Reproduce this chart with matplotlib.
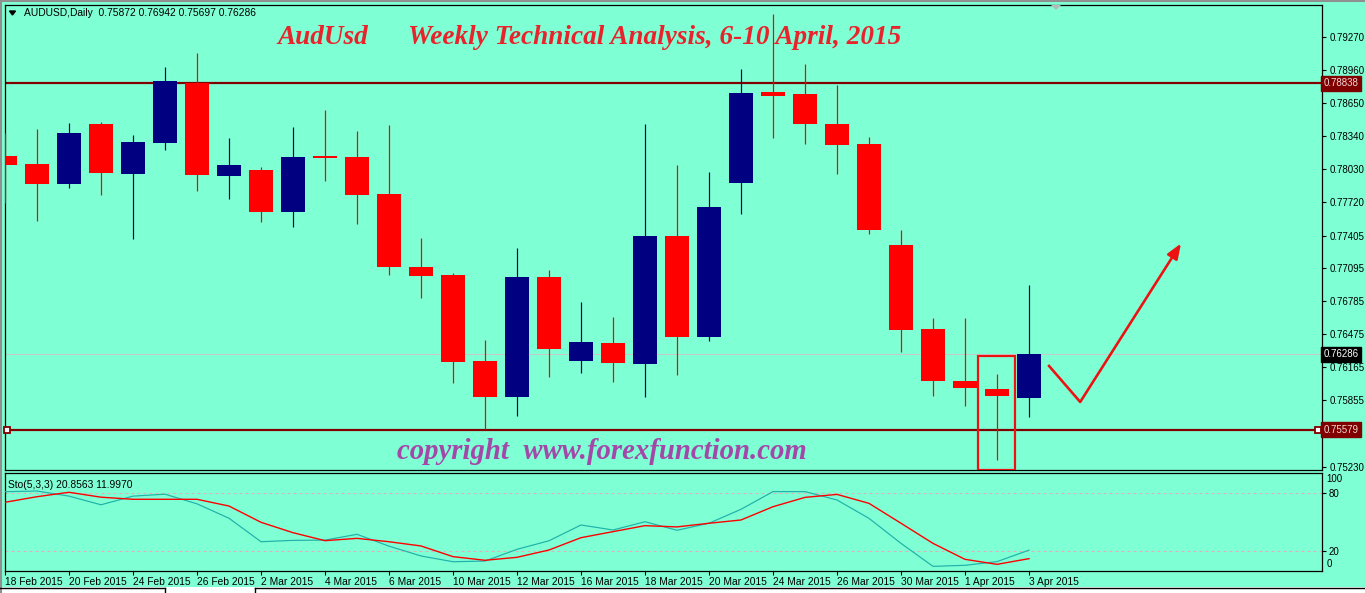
import matplotlib
matplotlib.use('Agg')
import matplotlib.pyplot as plt
from matplotlib.patches import Rectangle
import matplotlib.transforms as mtransforms
import numpy as np

# ---------------- data ----------------
tick_dates = ['18 Feb 2015', '20 Feb 2015', '24 Feb 2015', '26 Feb 2015', '2 Mar 2015',
              '4 Mar 2015', '6 Mar 2015', '10 Mar 2015', '12 Mar 2015', '16 Mar 2015',
              '18 Mar 2015', '20 Mar 2015', '24 Mar 2015', '26 Mar 2015', '30 Mar 2015',
              '1 Apr 2015', '3 Apr 2015']

opens = [0.78153, 0.78078, 0.77893, 0.78454, 0.77987, 0.78278, 0.78840, 0.77968, 0.78022,
         0.77629, 0.78144, 0.78144, 0.77796, 0.77109, 0.77034, 0.76225, 0.75889, 0.77015,
         0.76227, 0.76394, 0.76199, 0.77401, 0.76453, 0.77902, 0.78755, 0.78737, 0.78454,
         0.78266, 0.77316, 0.76526, 0.76037, 0.75961, 0.75872]
highs = [0.78373, 0.78407, 0.78464, 0.78473, 0.78351, 0.78991, 0.79122, 0.78323, 0.78050,
         0.78426, 0.78586, 0.78388, 0.78445, 0.77382, 0.77053, 0.76422, 0.77288, 0.77081,
         0.76780, 0.76639, 0.78454, 0.78069, 0.78003, 0.78972, 0.79489, 0.79019, 0.78821,
         0.78332, 0.77457, 0.76629, 0.76629, 0.76102, 0.76942]
lows = [0.77714, 0.77545, 0.77855, 0.77789, 0.77375, 0.78213, 0.77827, 0.77752, 0.77535,
        0.77488, 0.77921, 0.77516, 0.77037, 0.76820, 0.76021, 0.75582, 0.75710, 0.76077,
        0.76115, 0.76030, 0.75889, 0.76096, 0.76416, 0.77610, 0.78325, 0.78269, 0.77987,
        0.77422, 0.76309, 0.75895, 0.75801, 0.75293, 0.75697]
closes = [0.78071, 0.77893, 0.78370, 0.77996, 0.78285, 0.78859, 0.77977, 0.78069, 0.77629,
          0.78144, 0.78139, 0.77789, 0.77112, 0.77027, 0.76218, 0.75889, 0.77015, 0.76340,
          0.76403, 0.76209, 0.77401, 0.76453, 0.77674, 0.78746, 0.78721, 0.78457, 0.78260,
          0.77460, 0.76516, 0.76037, 0.75971, 0.75895, 0.76286]

stoch_k = [81.6, 82.3, 77.0, 68.0, 77.0, 79.0, 69.0, 54.0, 29.6, 31.0, 31.3, 37.3, 25.0,
           14.8, 8.8, 9.5, 21.7, 30.6, 47.0, 41.8, 50.4, 41.5, 48.8, 63.3, 81.7, 81.7,
           73.0, 53.9, 27.9, 4.0, 5.1, 8.9, 20.8563]
stoch_d = [70.6, 76.4, 81.0, 75.9, 73.7, 73.7, 73.7, 66.7, 49.8, 39.0, 30.7, 33.1, 29.6,
           25.2, 14.1, 10.3, 13.4, 21.0, 33.8, 40.1, 46.3, 45.0, 48.8, 52.2, 66.0, 75.7,
           78.8, 69.5, 48.8, 27.9, 11.3, 6.1, 11.997]

price_ticks = [0.79270, 0.78960, 0.78650, 0.78340, 0.78030, 0.77720, 0.77405, 0.77095,
               0.76785, 0.76475, 0.76165, 0.75855, 0.75540, 0.75230]
resistance = 0.78838
support = 0.75579
last_price = 0.76286
stoch_levels = [80, 20]
stoch_ticks = [80, 20]

# ---------------- layout ----------------
W, H = 1365, 593
BG = '#7FFFD4'
BULL = '#000080'
BEAR = '#FF0000'
MAROON = '#800000'
LBL = 'Liberation Sans'
FS = 7.0
PX = 0.72  # 1 pixel in points


def rect(x0, y0, x1, y1):
    return [x0 / W, 1 - y1 / H, (x1 - x0) / W, (y1 - y0) / H]


fig = plt.figure(figsize=(W / 100, H / 100), dpi=100, facecolor=BG)

ax = fig.add_axes(rect(4.5, 4.5, 1321.5, 470), facecolor=BG)
sx = fig.add_axes(rect(4.5, 472.5, 1321.5, 571), facecolor=BG)

n = len(opens)
idx = np.arange(n)
xmin = (4.5 - 5) / 32
xmax = (1321.5 - 5) / 32

# price -> pixel scale: 0.79270 at y=37.3, 0.75230 at y=466.7
ppx = (0.79270 - 0.75230) / (466.7 - 37.3)
ytop = 0.79270 + (37.3 - 4.5) * ppx
ybot = 0.79270 - (470 - 37.3) * ppx

# candles
for i in idx:
    o, h, l, c = opens[i], highs[i], lows[i], closes[i]
    col = BULL if c > o else BEAR
    ax.vlines(i, l, h, color=col, lw=1.0 * PX * 1.2, zorder=3)
    body = max(abs(c - o), 1.6 * ppx)
    ax.bar(i, body, bottom=min(o, c), width=0.78, color=col, linewidth=0, zorder=4)

# level lines
ax.axhline(resistance, color=MAROON, lw=2 * PX * 1.1, zorder=2)
ax.axhline(support, color=MAROON, lw=2 * PX * 1.1, zorder=2)
ax.plot([xmin + 0.07, xmax - 0.1], [support, support], ls='none', marker='s', ms=4.5,
        mfc='white', mec=MAROON, mew=1.3, zorder=5, clip_on=False)
ax.axhline(last_price, color='#C8C8C8', lw=PX, zorder=1)

ax.set_xlim(xmin, xmax)
ax.set_ylim(ybot, ytop)

# right axis ticks (the 0.75540 label sits under the support price box)
ax.yaxis.tick_right()
ax.set_yticks(price_ticks)
ax.set_yticklabels(['' if abs(p - 0.75540) < 1e-6 else f'{p:.5f}' for p in price_ticks],
                   fontsize=FS, family=LBL)
ax.tick_params(axis='y', direction='out', length=3, width=0.8, pad=3, colors='black')
ax.set_xticks([])
for sp in ax.spines.values():
    sp.set_color('black')
    sp.set_linewidth(0.9)

# price boxes on axis
btr = mtransforms.blended_transform_factory(ax.transAxes, ax.transData)
for val, fc in [(resistance, MAROON), (support, MAROON), (last_price, 'black')]:
    ax.text(1.0015, val, f'{val:.5f}', transform=btr, fontsize=FS, family=LBL,
            color='white' if fc == 'black' else '#F0D8D8', va='center', ha='left',
            bbox=dict(boxstyle='square,pad=0.25', fc=fc, ec=fc), zorder=10, clip_on=False)

# header and title texts
ax.text(20 / (1317), 1 - (13 - 4.5) / 465.5, 'AUDUSD,Daily  0.75872 0.76942 0.75697 0.76286',
        transform=ax.transAxes, fontsize=7.4, family=LBL, va='center', ha='left')
tri_x = [(9.5 - 4.5) / 1317, (15.5 - 4.5) / 1317, (12.5 - 4.5) / 1317]
tri_y = [1 - (11 - 4.5) / 465.5, 1 - (11 - 4.5) / 465.5, 1 - (15 - 4.5) / 465.5]
ax.fill(tri_x, tri_y, color='black', transform=ax.transAxes)

title_kw = dict(family='Liberation Serif', fontweight='bold', fontstyle='italic',
                color='#E8232B', fontsize=19.6, va='baseline', ha='left')
fig.text(277 / W, 1 - 44 / H, 'AudUsd', **title_kw)
fig.text(408 / W, 1 - 44 / H, 'Weekly Technical Analysis, 6-10 April, 2015', **title_kw)

fig.text(397 / W, 1 - 459 / H, 'copyright  www.forexfunction.com',
         family='Liberation Serif', fontweight='bold', fontstyle='italic',
         color='#A348A8', fontsize=20.7, va='baseline', ha='left')

# highlight box around the 2 Apr candle
ax.add_patch(Rectangle((30.4, ybot + 0.5 * ppx), 31.56 - 30.4, 0.76272 - ybot - 0.5 * ppx,
                       fill=False, ec='#EE1111', lw=2.2 * PX, zorder=6))

# projected path arrow
ax.plot([32.6, 33.6], [0.76187, 0.75839], color='#EE1111', lw=2.6 * PX, zorder=6,
        solid_capstyle='butt')
ax.annotate('', xy=(36.75, 0.77330), xytext=(33.6, 0.75839),
            arrowprops=dict(arrowstyle='-|>,head_length=0.9,head_width=0.35',
                            color='#EE1111', lw=2.6 * PX, shrinkA=0, shrinkB=0), zorder=6)

# shift marker triangle at top
fig.patches.append(plt.Polygon([[1051 / W, 1 - 5 / H], [1061 / W, 1 - 5 / H], [1056 / W, 1 - 10 / H]],
                               closed=True, fc='#B8B8B8', ec='none', transform=fig.transFigure))

# ---------------- stochastic ----------------
sx.plot(idx, stoch_k, color='#20B2AA', lw=1.0 * PX * 1.2, zorder=3)
sx.plot(idx, stoch_d, color='#FF0000', lw=1.0 * PX * 1.4, zorder=4)
for lv in stoch_levels:
    sx.axhline(lv, color='#E0B0B8', lw=PX, ls=(0, (3, 3)), zorder=1)
sx.set_xlim(xmin, xmax)
s_per = 0.962
sx.set_ylim((570.2 - 571) / s_per, (570.2 - 472.5) / s_per)
sx.yaxis.tick_right()
sx.set_yticks(stoch_ticks)
sx.set_yticklabels([str(t) for t in stoch_ticks], fontsize=FS, family=LBL)
sx.tick_params(axis='y', direction='out', length=3, width=0.8, pad=2)
# MT4 draws the 100 / 0 scale labels inset from the window edges
for lab, ypx in [('100', 479), ('0', 564)]:
    sx.text(1.0 + 5 / 1317, (570.2 - ypx) / s_per, lab,
            transform=mtransforms.blended_transform_factory(sx.transAxes, sx.transData),
            fontsize=FS, family=LBL, va='center', ha='left', clip_on=False)
sx.set_xticks(idx[::2])
sx.set_xticklabels(tick_dates, fontsize=7.4, family=LBL, ha='left')
sx.tick_params(axis='x', direction='out', length=3, width=0.8, pad=1)
for sp in sx.spines.values():
    sp.set_color('black')
    sp.set_linewidth(0.9)
sx.text(3 / 1317, 1 - (12 / 98.5), 'Sto(5,3,3) 20.8563 11.9970', transform=sx.transAxes,
        fontsize=7.4, family=LBL, va='center', ha='left')

# ---------------- window frame decorations ----------------
fig.add_artist(plt.Line2D([0, 1], [1 - 1 / H, 1 - 1 / H], color='#909090', lw=1.5,
                          transform=fig.transFigure))
fig.add_artist(plt.Line2D([1 / W, 1 / W], [0, 1], color='#909090', lw=1.5,
                          transform=fig.transFigure))
fig.patches.append(Rectangle((0, 0), 1, 6.5 / H, transform=fig.transFigure, fc='white',
                             ec='none', zorder=0))
for x0, x1 in [(0, 165), (255, 1365)]:
    fig.add_artist(plt.Line2D([x0 / W, x1 / W], [1 - 587.5 / H, 1 - 587.5 / H], color='black',
                              lw=1.0, transform=fig.transFigure))
for xv in [165, 255]:
    fig.add_artist(plt.Line2D([xv / W, xv / W], [0, 1 - 587.5 / H], color='black',
                              lw=1.0, transform=fig.transFigure))

fig.savefig('out.png', dpi=100, facecolor=BG)
